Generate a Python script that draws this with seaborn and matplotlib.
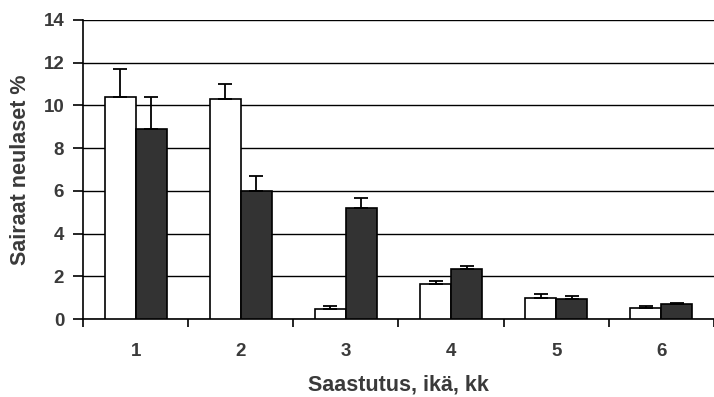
import matplotlib
matplotlib.use("Agg")
import matplotlib.pyplot as plt
import seaborn as sns
import pandas as pd
import numpy as np

categories = ["1", "2", "3", "4", "5", "6"]
series_names = ["A", "B"]
white_values = [10.4, 10.3, 0.45, 1.62, 1.0, 0.53]
white_err = [1.3, 0.7, 0.15, 0.17, 0.15, 0.07]
dark_values = [8.9, 6.0, 5.2, 2.35, 0.94, 0.69]
dark_err = [1.5, 0.7, 0.45, 0.13, 0.14, 0.07]
y_ticks = [0, 2, 4, 6, 8, 10, 12, 14]

df = pd.DataFrame({
    "cat": categories * 2,
    "series": [series_names[0]] * 6 + [series_names[1]] * 6,
    "value": white_values + dark_values,
})

sns.set_theme(style="white")
plt.rcParams['font.family'] = ['Liberation Sans', 'DejaVu Sans']
txt = '#3a3a3a'

fig = plt.figure(figsize=(7.14, 3.97), dpi=100)
ax = fig.add_axes([83/714, 1 - 319/397, 631/714, 299/397])

sns.barplot(data=df, x="cat", y="value", hue="series", order=categories,
            hue_order=series_names, palette=["white", "#333333"],
            width=0.59, gap=0, errorbar=None, edgecolor="black", linewidth=1.2,
            saturation=1, legend=False, ax=ax, zorder=3)

for cont, errs in zip(ax.containers, [white_err, dark_err]):
    xs = [p.get_x() + p.get_width() / 2 for p in cont.patches]
    hs = [p.get_height() for p in cont.patches]
    ax.errorbar(xs, hs, yerr=[np.zeros(len(errs)), errs], fmt="none",
                ecolor="black", elinewidth=1.3, capsize=5, capthick=1.3, zorder=4)

ax.set_ylim(0, 14)
ax.set_xlim(-0.5, 5.5)
ax.set_yticks(y_ticks)
ax.yaxis.grid(True, color="black", linewidth=1.0, zorder=0)
ax.set_axisbelow(True)
for s in ["top", "right"]:
    ax.spines[s].set_visible(False)
for s in ["left", "bottom"]:
    ax.spines[s].set_visible(True)
    ax.spines[s].set_color("black")
    ax.spines[s].set_linewidth(1.2)

ax.set_xticks(np.arange(-0.5, 6.0, 1.0), minor=False)
ax.set_xticklabels([])
ax.set_xticks(np.arange(0, 6), minor=True)
ax.set_xticklabels(categories, minor=True, fontsize=13.5, fontweight="bold", color=txt)
ax.tick_params(axis="x", which="major", direction="out", length=6, width=1.2, color="black", bottom=True)
ax.tick_params(axis="x", which="minor", length=0, pad=17.5)
ax.tick_params(axis="y", direction="out", length=7, width=1.2, color="black", left=True,
               labelsize=13.5, labelcolor=txt, pad=6.5)
for lab in ax.get_yticklabels():
    lab.set_fontweight("bold")

ax.set_xlabel("Saastutus, ikä, kk", fontsize=15.5, fontweight="bold", color=txt, labelpad=10.5)
ax.set_ylabel("Sairaat neulaset %", fontsize=15.5, fontweight="bold", color=txt, labelpad=9)

fig.savefig("out.png", dpi=100)
